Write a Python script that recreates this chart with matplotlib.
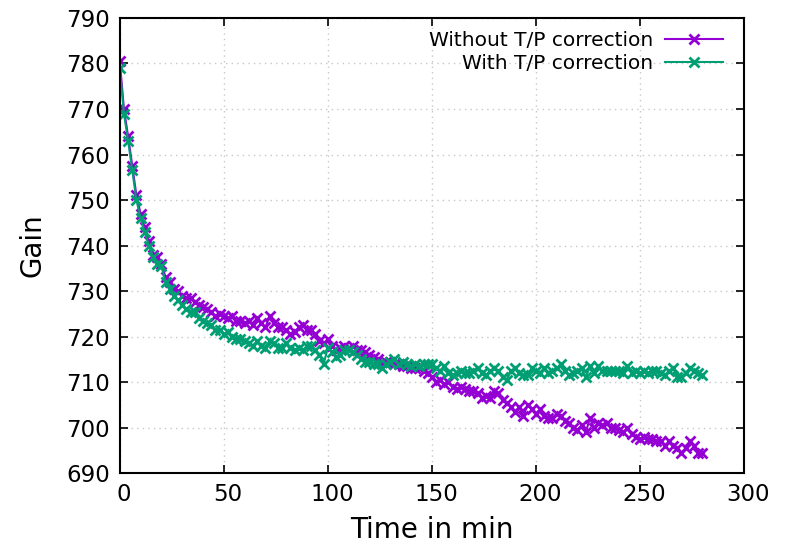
import numpy as np
import matplotlib
matplotlib.use("Agg")
import matplotlib.pyplot as plt
import matplotlib.transforms as mtransforms

# time in min, one point every 2 min
time = np.arange(0, 282, 2)

gain_without = [
    780.5, 770.0, 764.0, 757.5, 751.0, 747.0, 744.0, 741.0, 738.0, 737.5,
    736.0, 733.0, 732.0, 730.5, 730.0, 729.0, 728.5, 728.5, 727.5, 727.0,
    726.5, 726.0, 725.5, 724.5, 725.0, 724.5, 724.0, 724.5, 723.5, 723.5,
    723.0, 723.5, 722.5, 724.0, 723.0, 722.0, 724.5, 723.0, 722.0, 722.0,
    721.5, 720.5, 721.0, 722.0, 722.5, 721.5, 721.5, 720.5, 719.0, 718.5,
    719.5, 718.0, 717.0, 717.5, 718.0, 717.5, 718.0, 717.0, 717.0, 716.5,
    716.0, 715.5, 715.0, 714.5, 714.5, 714.5, 714.0, 714.0, 713.5, 713.5,
    713.0, 713.0, 713.0, 712.5, 712.0, 711.0, 710.0, 710.5, 709.5, 710.0,
    709.0, 708.5, 709.0, 708.5, 708.0, 708.0, 707.5, 706.5, 707.0, 706.5,
    708.0, 707.5, 706.0, 705.5, 704.5, 703.5, 704.5, 702.5, 705.0, 704.0,
    703.0, 704.0, 702.5, 702.0, 702.0, 703.0, 702.5, 701.5, 701.0, 700.0,
    699.5, 700.5, 699.0, 702.0, 700.0, 701.0, 700.5, 701.0, 700.0, 700.0,
    699.5, 699.0, 700.0, 698.5, 698.0, 697.5, 698.0, 697.5, 697.5, 697.0,
    697.0, 696.0, 697.0, 696.0, 695.5, 694.5, 695.5, 697.0, 696.0, 694.5,
    694.5,
]

gain_with = [
    779.0, 769.0, 763.0, 756.5, 750.0, 746.0, 743.0, 740.0, 737.5, 736.0,
    735.5, 732.0, 730.5, 729.0, 728.0, 727.0, 726.0, 725.5, 725.5, 724.0,
    723.5, 723.0, 722.5, 721.5, 721.5, 720.5, 721.0, 720.0, 719.5, 719.5,
    719.0, 718.5, 718.0, 719.0, 718.0, 717.5, 719.0, 718.5, 717.5, 717.5,
    718.5, 717.5, 717.0, 717.5, 717.0, 718.0, 718.0, 717.0, 716.0, 714.0,
    717.5, 716.5, 715.5, 716.0, 717.0, 717.0, 716.5, 716.0, 715.0, 714.5,
    714.5, 714.0, 714.0, 713.0, 714.0, 714.5, 715.0, 714.0, 714.5, 714.0,
    713.5, 714.0, 713.5, 714.0, 714.0, 714.0, 713.0, 712.5, 713.5, 712.0,
    711.5, 712.0, 712.5, 712.0, 712.0, 712.5, 713.0, 712.0, 711.5, 712.5,
    713.0, 712.5, 711.0, 710.5, 712.5, 713.0, 712.0, 711.5, 711.5, 713.0,
    712.5, 712.0, 713.0, 712.0, 712.5, 713.0, 714.0, 712.5, 711.5, 712.0,
    712.5, 713.0, 711.0, 713.5, 712.0, 713.5, 712.5, 712.5, 712.5, 712.5,
    712.5, 712.0, 713.5, 712.0, 712.5, 712.0, 712.5, 712.0, 712.5, 712.5,
    712.0, 711.5, 712.5, 713.0, 711.0, 711.0, 712.0, 713.0, 712.5, 712.0,
    711.5,
]

xticks = [0, 50, 100, 150, 200, 250, 300]
yticks = [690, 700, 710, 720, 730, 740, 750, 760, 770, 780, 790]

fig = plt.figure(figsize=(7.88, 5.45), dpi=100)
ax = fig.add_axes([0.152, 0.132, 0.792, 0.835])

ax.plot(time, gain_without, color="#9400d3", lw=1.5, marker="x", ms=7.5, mew=2,
        label="Without T/P correction")
ax.plot(time, gain_with, color="#009e73", lw=1.5, marker="x", ms=7.5, mew=2,
        label="With T/P correction")

ax.set_xlim(0, 300)
ax.set_ylim(690, 790)
ax.set_xticks(xticks)
ax.set_yticks(yticks)
ax.tick_params(direction="in", top=True, right=True, length=6, width=1.2,
               labelsize=16.5, pad=7)
# gnuplot puts x labels a little to the right
shift = mtransforms.ScaledTranslation(4 / 100, 0, fig.dpi_scale_trans)
for lab in ax.get_xticklabels():
    lab.set_transform(lab.get_transform() + shift)
ax.grid(True, color="#c8c8c8", linestyle=(0, (1, 3)), lw=1.0)
for s in ax.spines.values():
    s.set_linewidth(1.5)

ax.set_xlabel("Time in min", fontsize=20, labelpad=7)
ax.set_ylabel("Gain", fontsize=20, labelpad=14)

leg = ax.legend(loc="upper right", bbox_to_anchor=(0.987, 1.0), frameon=False,
                markerfirst=False, fontsize=14.5, handlelength=2.85,
                labelspacing=0.2, borderaxespad=0.25, handletextpad=0.6)

fig.savefig("out.png", dpi=100)
